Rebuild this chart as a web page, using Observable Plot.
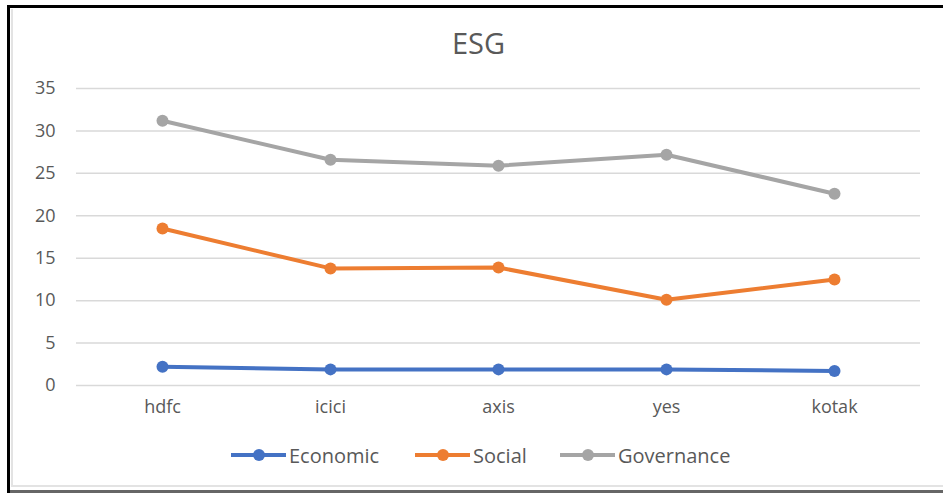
<!DOCTYPE html>
<html>
<head>
<meta charset="utf-8">
<script src="https://cdn.jsdelivr.net/npm/d3@7"></script>
<script src="https://cdn.jsdelivr.net/npm/@observablehq/plot@0.6"></script>
<style>
  html, body { margin: 0; padding: 0; background: #fff; width: 943px; height: 493px; overflow: hidden; font-family: "Open Sans", sans-serif; }
  #frame { position: absolute; left: 7px; top: 5px; width: 960px; height: 500px; border-top: 3px solid #000; border-left: 3px solid #000; }
  #inner { position: absolute; left: 11px; top: 9px; width: 960px; height: 476px; border-left: 2px solid #e3e3e3; border-bottom: 2px solid #e3e3e3; }
  #bottom { position: absolute; left: 10px; top: 490px; width: 940px; height: 3px; background: #666; }
  #title { position: absolute; top: 23px; left: 7px; width: 943px; text-align: center; font-size: 29px; line-height: 40px; color: #595959; }
  #chart { position: absolute; top: 60px; left: 0; }
  #legend { position: absolute; top: 443px; left: 0; width: 943px; height: 24px; }
  .item { position: absolute; top: 0; display: flex; align-items: center; font-size: 20px; color: #595959; height: 24px; }
</style>
</head>
<body>
<div id="frame"></div>
<div id="inner"></div>
<div id="bottom"></div>
<div id="title">ESG</div>
<div id="chart"></div>
<div id="legend"></div>
<script>
const banks = ["hdfc", "icici", "axis", "yes", "kotak"];
const seriesNames = ["Economic", "Social", "Governance"];
const economic = [2.2, 1.9, 1.9, 1.9, 1.7];
const social = [18.5, 13.8, 13.9, 10.1, 12.5];
const governance = [31.2, 26.6, 25.9, 27.2, 22.6];
const yTicks = [0, 5, 10, 15, 20, 25, 30, 35];
const colors = ["#4472C4", "#ED7D31", "#A5A5A5"];

const valuesBySeries = [economic, social, governance];
const data = [];
seriesNames.forEach((s, i) => banks.forEach((b, j) => data.push({series: s, bank: b, value: valuesBySeries[i][j]})));

const chart = Plot.plot({
  width: 943,
  height: 370,
  marginTop: 28,
  marginBottom: 45,
  marginLeft: 76,
  marginRight: 23,
  style: { fontFamily: "Open Sans, sans-serif", fontSize: "18px", color: "#595959", background: "transparent" },
  x: { type: "point", domain: banks, padding: 0.5, label: null },
  y: { domain: [0, 35], ticks: yTicks, label: null },
  color: { domain: seriesNames, range: colors },
  marks: [
    Plot.ruleY(yTicks, { stroke: "#D9D9D9", strokeWidth: 1.5 }),
    Plot.axisX({ tickSize: 0, tickPadding: 15, fontSize: 18, fill: "#595959", label: null }),
    Plot.axisY({ ticks: yTicks, tickSize: 0, tickPadding: 21, fontSize: 18, fill: "#595959", label: null }),
    Plot.line(data, { x: "bank", y: "value", stroke: "series", z: "series", strokeWidth: 4, strokeLinecap: "round" }),
    Plot.dot(data, { x: "bank", y: "value", fill: "series", r: 6 })
  ]
});
document.getElementById("chart").appendChild(chart);

// Legend
const legendPos = [230, 414, 559];
const legend = document.getElementById("legend");
seriesNames.forEach((s, i) => {
  const item = document.createElement("div");
  item.className = "item";
  item.style.left = legendPos[i] + "px";
  item.innerHTML = `<svg width="57" height="24"><line x1="1" y1="12" x2="56" y2="12" stroke="${colors[i]}" stroke-width="4"/><circle cx="29" cy="12" r="6" fill="${colors[i]}"/></svg><span style="margin-left:2px">${s}</span>`;
  legend.appendChild(item);
});
</script>
</body>
</html>
